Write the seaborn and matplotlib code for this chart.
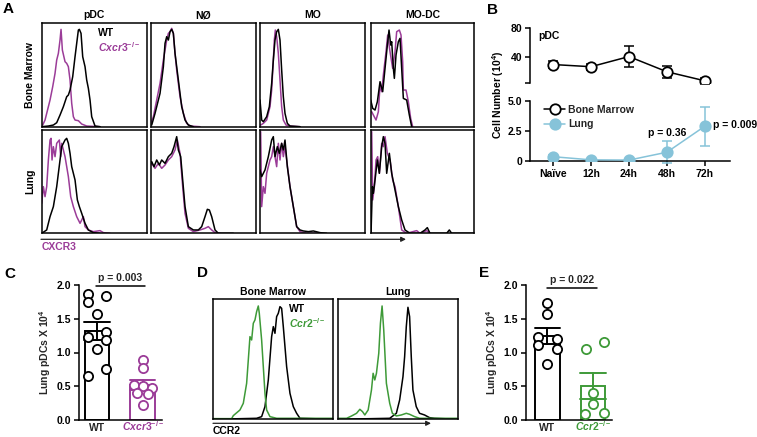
import numpy as np
import pandas as pd
import matplotlib
matplotlib.use("Agg")
import matplotlib.pyplot as plt
import seaborn as sns

# ---------------- DATA ----------------
# Panel A: CXCR3 histograms (x = fluorescence channel, y = % of max, arbitrary units)
pdc_bm_ko_x = [3, 10, 15, 25, 33, 40, 45, 50, 55, 58, 62, 70, 75, 80, 85, 90, 95, 100, 110, 120, 135, 175]
pdc_bm_ko_y = [5, 20, 40, 80, 120, 160, 200, 220, 260, 292, 230, 195, 190, 180, 140, 70, 30, 20, 18, 8, 2, 0]
pdc_bm_wt_x = [0, 20, 35, 45, 55, 65, 75, 80, 85, 93, 100, 105, 110, 113, 118, 123, 130, 135, 140, 145, 150, 160, 175]
pdc_bm_wt_y = [0, 2, 5, 12, 35, 60, 90, 95, 110, 150, 210, 250, 290, 292, 280, 210, 180, 140, 115, 80, 30, 2, 0]
pdc_lu_ko_x = [0, 5, 10, 15, 20, 25, 28, 31, 35, 40, 45, 53, 57, 60, 70, 80, 87, 95, 105, 115, 120, 125, 130, 140, 155, 175, 185, 205]
pdc_lu_ko_y = [90, 140, 110, 140, 220, 280, 285, 220, 260, 230, 270, 280, 230, 270, 230, 170, 110, 80, 50, 30, 40, 50, 20, 10, 5, 8, 2, 0]
pdc_lu_wt_x = [0, 15, 25, 35, 45, 55, 60, 65, 70, 75, 80, 85, 90, 100, 107, 113, 120, 130, 140, 155, 175]
pdc_lu_wt_y = [0, 10, 50, 80, 140, 220, 260, 270, 280, 285, 270, 240, 200, 160, 100, 80, 60, 30, 10, 2, 0]

neu_bm_ko_x = [0, 8, 18, 28, 38, 48, 53, 58, 63, 68, 73, 78, 88, 98, 108, 118, 148]
neu_bm_ko_y = [10, 30, 80, 130, 200, 260, 280, 285, 295, 280, 220, 170, 90, 40, 10, 2, 0]
neu_bm_wt_x = [3, 13, 28, 38, 43, 48, 53, 58, 63, 68, 73, 83, 93, 103, 113, 128]
neu_bm_wt_y = [5, 40, 100, 180, 250, 270, 260, 285, 292, 280, 220, 140, 60, 20, 5, 0]
neu_lu_ko_x = [0, 3, 13, 23, 33, 43, 53, 63, 73, 80, 88, 96, 103, 113, 128, 148, 163, 173, 183, 193, 208]
neu_lu_ko_y = [205, 210, 195, 210, 195, 205, 220, 230, 250, 280, 240, 140, 60, 15, 5, 10, 15, 20, 10, 2, 0]
neu_lu_wt_x = [0, 3, 10, 18, 26, 33, 43, 53, 63, 70, 78, 83, 90, 96, 103, 113, 128, 143, 153, 163, 170, 176, 183, 193, 203, 248]
neu_lu_wt_y = [210, 215, 200, 220, 205, 220, 210, 230, 240, 260, 290, 250, 230, 160, 80, 20, 10, 10, 20, 50, 72, 70, 50, 10, 0, 0]

mo_bm_ko_x = [2, 10, 20, 30, 35, 40, 43, 46, 50, 55, 60, 65, 70, 78, 90, 120]
mo_bm_ko_y = [5, 10, 20, 60, 110, 200, 260, 290, 270, 220, 140, 60, 20, 5, 2, 0]
mo_bm_wt_x = [0, 5, 10, 20, 28, 35, 40, 45, 50, 55, 60, 65, 70, 75, 82, 90, 120]
mo_bm_wt_y = [80, 20, 15, 30, 60, 130, 200, 260, 285, 292, 260, 170, 90, 40, 10, 2, 0]
mo_lu_ko_x = [2, 5, 10, 15, 20, 30, 35, 40, 50, 55, 60, 65, 70, 75, 80, 90, 100, 110, 120, 140, 180]
mo_lu_ko_y = [305, 80, 140, 120, 180, 220, 230, 260, 200, 270, 220, 270, 230, 260, 220, 140, 80, 20, 5, 0, 0]
mo_lu_wt_x = [0, 5, 15, 25, 35, 40, 45, 52, 58, 65, 70, 75, 82, 90, 100, 110, 120, 130, 145, 160, 180, 200]
mo_lu_wt_y = [190, 170, 190, 230, 280, 290, 230, 260, 240, 270, 250, 280, 200, 140, 80, 20, 10, 7, 5, 7, 2, 0]

modc_bm_ko_x = [3, 8, 16, 23, 28, 33, 38, 46, 51, 58, 66, 73, 78, 86, 91, 96, 98, 106, 113, 120, 126]
modc_bm_ko_y = [45, 35, 20, 45, 125, 105, 155, 225, 275, 225, 175, 225, 285, 290, 275, 195, 110, 110, 75, 25, 0]
modc_bm_wt_x = [0, 6, 13, 20, 28, 36, 43, 50, 55, 60, 63, 68, 71, 76, 83, 88, 93, 98, 108, 116, 123]
modc_bm_wt_y = [80, 55, 50, 75, 135, 105, 175, 245, 290, 245, 255, 175, 145, 215, 255, 265, 175, 85, 80, 35, 0]
modc_lu_ko_x = [3, 6, 11, 16, 21, 26, 33, 38, 43, 50, 58, 66, 73, 83, 93, 108, 138, 148, 168, 178]
modc_lu_ko_y = [305, 100, 140, 220, 230, 180, 270, 260, 290, 240, 220, 160, 140, 80, 10, 0, 8, 0, 8, 0]
modc_lu_wt_x = [1, 5, 8, 13, 20, 26, 33, 38, 43, 48, 56, 63, 73, 83, 93, 103, 118, 148, 163, 170, 178, 228, 236, 243, 311]
modc_lu_wt_y = [0, 140, 120, 160, 220, 180, 260, 290, 270, 180, 240, 180, 130, 80, 40, 10, 0, 0, 10, 17, 0, 0, 10, 0, 0]

cell_types = ["pDC", "NØ", "MO", "MO-DC"]
tissues = ["Bone Marrow", "Lung"]

# Panel B: pDC cell number time course
timepoints = ["Naïve", "12h", "24h", "48h", "72h"]
bm_mean = [30, 27, 41, 20, 7.5]
bm_sem = [5, 4, 15, 8, 4]
lung_mean = [0.38, 0.12, 0.10, 0.75, 2.9]
lung_sem = [0.1, 0.0, 0.0, 0.9, 1.6]

# Panel C: lung pDCs WT vs Cxcr3-/-
c_wt = [1.87, 1.75, 1.84, 1.57, 1.31, 1.23, 1.19, 1.05, 0.75, 0.65]
c_ko = [0.89, 0.77, 0.52, 0.50, 0.48, 0.40, 0.38, 0.22]

# Panel D: CCR2 histograms
ccr2_bm_ko_x = [0, 55, 60, 80, 90, 100, 110, 115, 120, 125, 130, 135, 138, 145, 150, 155, 160, 170, 190, 250, 360]
ccr2_bm_ko_y = [2, 2, 11, 28, 48, 108, 248, 238, 288, 298, 323, 340, 318, 238, 158, 78, 28, 8, 3, 3, 3]
ccr2_bm_wt_x = [0, 130, 145, 155, 165, 175, 180, 185, 190, 195, 200, 205, 210, 220, 230, 240, 250, 260, 360]
ccr2_bm_wt_y = [0, 3, 8, 38, 118, 248, 278, 258, 308, 318, 338, 333, 278, 158, 78, 38, 18, 3, 0]
ccr2_lu_ko_x = [0, 25, 40, 55, 65, 73, 80, 90, 100, 105, 110, 115, 122, 127, 132, 137, 145, 155, 163, 175, 190, 205, 215, 230, 245, 358]
ccr2_lu_ko_y = [3, 3, 10, 18, 30, 23, 13, 28, 88, 138, 118, 138, 198, 288, 340, 268, 108, 48, 18, 10, 13, 18, 15, 8, 3, 3]
ccr2_lu_wt_x = [0, 155, 175, 185, 195, 200, 205, 210, 215, 220, 225, 235, 245, 260, 275, 290, 360]
ccr2_lu_wt_y = [0, 3, 18, 58, 128, 188, 278, 336, 308, 188, 88, 38, 18, 13, 5, 3, 0]

# Panel E: lung pDCs WT vs Ccr2-/-
e_wt = [1.74, 1.57, 1.23, 1.20, 1.11, 1.05, 0.83]
e_ko = [1.05, 1.16, 0.40, 0.24, 0.09, 0.11]

# point spread (layout only)
c_wt_off = [-0.2, -0.2, 0.2, 0.0, 0.2, -0.2, 0.2, 0.0, 0.2, -0.2]
c_ko_off = [0.0, 0.0, -0.2, 0.0, 0.2, -0.12, 0.12, 0.0]
e_wt_off = [0.0, 0.0, -0.2, 0.2, -0.2, 0.2, 0.0]
e_ko_off = [-0.15, 0.24, 0.0, 0.0, -0.17, 0.24]

# ---------------- STYLE ----------------
sns.set_theme(style="white")
plt.rcParams["font.family"] = ["Liberation Sans", "DejaVu Sans"]
plt.rcParams["font.weight"] = "bold"
plt.rcParams["axes.labelweight"] = "bold"
plt.rcParams["mathtext.fontset"] = "custom"
plt.rcParams["mathtext.rm"] = "Liberation Sans:bold"
plt.rcParams["mathtext.it"] = "Liberation Sans:bold:italic"
plt.rcParams["mathtext.bf"] = "Liberation Sans:bold"

PURPLE = "#9B3C98"
GREEN = "#3E9A38"
LBLUE = "#86C3D9"
FS = 7.5

W, H = 757, 437
fig = plt.figure(figsize=(W / 100, H / 100), dpi=100)


def rect(l, t, r, b):
    return [l / W, 1 - b / H, (r - l) / W, (b - t) / H]


def box_ax(l, t, r, b, xmax, ymax):
    ax = fig.add_axes(rect(l, t, r, b))
    ax.set_xlim(0, xmax)
    ax.set_ylim(0, ymax)
    ax.set_xticks([])
    ax.set_yticks([])
    for s in ax.spines.values():
        s.set_visible(True)
        s.set_color("black")
        s.set_linewidth(1.1)
    return ax


def curve(ax, x, y, color):
    sns.lineplot(x=x, y=y, ax=ax, color=color, sort=False, estimator=None, linewidth=1.1)
    ax.set_xlabel("")
    ax.set_ylabel("")


# ---------------- PANEL A ----------------
cols_px = [(41.7, 146.7, 315), (150.7, 256, 316), (260, 365, 315), (370.7, 474.3, 311)]
rows_px = [(22.7, 126.7, 312), (130, 233.3, 310)]
hist_a = [
    [(pdc_bm_ko_x, pdc_bm_ko_y, pdc_bm_wt_x, pdc_bm_wt_y), (pdc_lu_ko_x, pdc_lu_ko_y, pdc_lu_wt_x, pdc_lu_wt_y)],
    [(neu_bm_ko_x, neu_bm_ko_y, neu_bm_wt_x, neu_bm_wt_y), (neu_lu_ko_x, neu_lu_ko_y, neu_lu_wt_x, neu_lu_wt_y)],
    [(mo_bm_ko_x, mo_bm_ko_y, mo_bm_wt_x, mo_bm_wt_y), (mo_lu_ko_x, mo_lu_ko_y, mo_lu_wt_x, mo_lu_wt_y)],
    [(modc_bm_ko_x, modc_bm_ko_y, modc_bm_wt_x, modc_bm_wt_y), (modc_lu_ko_x, modc_lu_ko_y, modc_lu_wt_x, modc_lu_wt_y)],
]
for ci, (l, r, xmax) in enumerate(cols_px):
    for ri, (t, b, ymax) in enumerate(rows_px):
        ax = box_ax(l, t, r, b, xmax, ymax)
        kx, ky, wx, wy = hist_a[ci][ri]
        curve(ax, kx, ky, PURPLE)
        curve(ax, wx, wy, "black")

# ---------------- PANEL B ----------------
xs = np.arange(len(timepoints))
xl = (-0.605, 4.66)
axt = fig.add_axes(rect(530, 28.3, 730, 83.3))
axb = fig.add_axes(rect(530, 100.7, 730, 161.3))
for a in (axt, axb):
    a.set_xlim(*xl)
    for s in ("top", "right"):
        a.spines[s].set_visible(False)
    a.spines["left"].set_linewidth(1.1)
    a.spines["bottom"].set_linewidth(1.1)
    a.spines["left"].set_color("black")
    a.spines["bottom"].set_color("black")
    a.tick_params(axis="both", direction="out", length=3.5, width=1.1, colors="black",
                  labelsize=FS, left=True, bottom=True, pad=2)
axt.spines["bottom"].set_visible(False)
axt.tick_params(axis="x", bottom=False, labelbottom=False)

axt.errorbar(xs, bm_mean, yerr=bm_sem, fmt="none", ecolor="black", elinewidth=1.1,
             capsize=3.5, capthick=1.1, clip_on=False, zorder=2)
sns.lineplot(x=xs, y=bm_mean, ax=axt, color="black", linewidth=1.1, marker="o",
             markersize=7.5, markerfacecolor="white", markeredgecolor="black",
             markeredgewidth=1.3, label="Bone Marrow", zorder=3, legend=False)
axt.set_ylim(4.1, 80)
axt.set_yticks([4.1, 40, 80])
axt.set_yticklabels(["", "40", "80"])

axb.errorbar(xs, lung_mean, yerr=lung_sem, fmt="none", ecolor=LBLUE, elinewidth=1.1,
             capsize=3.5, capthick=1.1, clip_on=False, zorder=2)
sns.lineplot(x=xs, y=lung_mean, ax=axb, color=LBLUE, linewidth=1.1, marker="o",
             markersize=7.5, markerfacecolor=LBLUE, markeredgecolor=LBLUE,
             markeredgewidth=1.3, label="Lung", zorder=3, legend=False)
axb.set_ylim(0, 5)
axb.set_yticks([0, 2.5, 5.0])
axb.set_yticklabels(["0", "2.5", "5.0"])
axb.set_xticks(xs)
axb.set_xticklabels(timepoints)
for a in (axt, axb):
    a.set_xlabel("")
    a.set_ylabel("")
    for lab in a.get_xticklabels() + a.get_yticklabels():
        lab.set_fontweight("bold")
h1 = axt.get_lines()[-1]
h2 = axb.get_lines()[-1]
axb.legend([h1, h2], ["Bone Marrow", "Lung"], loc="upper left", bbox_to_anchor=(0.04, 1.04),
           frameon=False, fontsize=FS, handlelength=2.0, handletextpad=0.3,
           labelspacing=0.45, borderaxespad=0.2, prop={"weight": "bold", "size": FS})


# ---------------- PANELS C & E ----------------
def dot_bar(l, t, r, b, xlim, wt, ko, wt_off, ko_off, kocolor, kolabel, pval, pline):
    ax = fig.add_axes(rect(l, t, r, b))
    groups = ["WT", "KO"]
    df_wt = pd.DataFrame({"g": "WT", "v": wt})
    df_ko = pd.DataFrame({"g": "KO", "v": ko})
    sns.barplot(data=df_wt, x="g", y="v", order=groups, ax=ax, errorbar="se", capsize=0.55,
                fill=False, color="black", linewidth=1.4, width=0.54,
                err_kws={"color": "black", "linewidth": 1.4})
    sns.barplot(data=df_ko, x="g", y="v", order=groups, ax=ax, errorbar="se", capsize=0.55,
                fill=False, color=kocolor, linewidth=1.4, width=0.54,
                err_kws={"color": kocolor, "linewidth": 1.4})
    sns.scatterplot(x=np.array(wt_off) + 0, y=wt, ax=ax, s=44, facecolor="white",
                    edgecolor="black", linewidth=1.3, zorder=5, clip_on=False)
    sns.scatterplot(x=np.array(ko_off) + 1, y=ko, ax=ax, s=44, facecolor="white",
                    edgecolor=kocolor, linewidth=1.3, zorder=5, clip_on=False)
    ax.set_xlim(*xlim)
    ax.set_ylim(0, 2.0)
    ax.set_yticks([0, 0.5, 1.0, 1.5, 2.0])
    ax.set_yticklabels(["0.0", "0.5", "1.0", "1.5", "2.0"])
    ax.set_xticks([0, 1])
    ax.set_xticklabels(["WT", kolabel])
    ax.get_xticklabels()[1].set_color(kocolor)
    for lab in ax.get_xticklabels() + ax.get_yticklabels():
        lab.set_fontweight("bold")
    for lab in ax.get_xticklabels():
        lab.set_verticalalignment("baseline")
    for s in ("top", "right"):
        ax.spines[s].set_visible(False)
    for s in ("left", "bottom"):
        ax.spines[s].set_linewidth(1.1)
        ax.spines[s].set_color("black")
    ax.tick_params(axis="y", direction="out", length=3.5, width=1.1, colors="black",
                   labelsize=FS, left=True, pad=2)
    ax.tick_params(axis="x", length=0, labelsize=FS, bottom=False, pad=8.0)
    ax.set_xlabel("")
    ax.set_ylabel("Lung pDCs X 10$^4$", fontsize=FS, fontweight="bold", labelpad=3)
    x0, x1, yl = pline
    ax.plot([x0, x1], [yl, yl], color="black", linewidth=1.1, clip_on=False)
    ax.text((x0 + x1) / 2, yl + 0.04, pval, ha="center", va="bottom", fontsize=FS,
            fontweight="bold")
    return ax


dot_bar(79, 285, 161.7, 420, (-0.39, 1.41), c_wt, c_ko, c_wt_off, c_ko_off, PURPLE,
        r"$\mathit{Cxcr3}^{-/-}$", "p = 0.003", (-0.03, 1.05, 1.985))
dot_bar(526, 285, 611.7, 420, (-0.47, 1.41), e_wt, e_ko, e_wt_off, e_ko_off, GREEN,
        r"$\mathit{Ccr2}^{-/-}$", "p = 0.022", (0.0, 1.08, 1.96))

# ---------------- PANEL D ----------------
axd1 = box_ax(213.3, 299.3, 333.3, 419.3, 360, 360)
curve(axd1, ccr2_bm_wt_x, ccr2_bm_wt_y, "black")
curve(axd1, ccr2_bm_ko_x, ccr2_bm_ko_y, GREEN)
axd2 = box_ax(338.3, 299.3, 457.7, 419.3, 360, 360)
curve(axd2, ccr2_lu_wt_x, ccr2_lu_wt_y, "black")
curve(axd2, ccr2_lu_ko_x, ccr2_lu_ko_y, GREEN)

# ---------------- OVERLAY TEXT ----------------
ov = fig.add_axes([0, 0, 1, 1], zorder=10)
ov.set_xlim(0, W)
ov.set_ylim(H, 0)
ov.axis("off")


def T(x, y, s, ha="left", va="center", size=FS, color="black", **kw):
    ov.text(x, y, s, ha=ha, va=va, fontsize=size, color=color, fontweight="bold", **kw)


for lab, x, y in [("A", 3, 9), ("B", 487, 10), ("C", 4, 274), ("D", 197, 273), ("E", 479, 273)]:
    T(x, y, lab, size=11)

for name, (l, r, _) in zip(cell_types, cols_px):
    T((l + r) / 2, 15.5, name, ha="center")
T(30, 74.7, tissues[0], ha="center", rotation=90)
T(30, 181.7, tissues[1], ha="center", rotation=90)
T(98, 33, "WT")
T(98, 47.5, r"$\mathit{Cxcr3}^{-/-}$", color=PURPLE)
ov.annotate("", xy=(406, 239.3), xytext=(41, 239.3),
            arrowprops=dict(arrowstyle="-|>", lw=0.9, color="#222222", mutation_scale=7,
                            shrinkA=0, shrinkB=0))
T(42, 247.5, "CXCR3", color=PURPLE)

T(538, 36, "pDC")
T(498, 95, "Cell Number (10$^4$)", ha="center", rotation=90)
T(667, 133, "p = 0.36", ha="center")
T(713, 125.5, "p = 0.009")

T(273.3, 292, tissues[0], ha="center")
T(398, 292, tissues[1], ha="center")
T(289, 309, "WT")
T(289, 323, r"$\mathit{Ccr2}^{-/-}$", color=GREEN)
ov.annotate("", xy=(431, 423.3), xytext=(213, 423.3),
            arrowprops=dict(arrowstyle="-|>", lw=0.9, color="#222222", mutation_scale=7,
                            shrinkA=0, shrinkB=0))
T(213, 431.5, "CCR2")

fig.savefig("out.png", dpi=100)
